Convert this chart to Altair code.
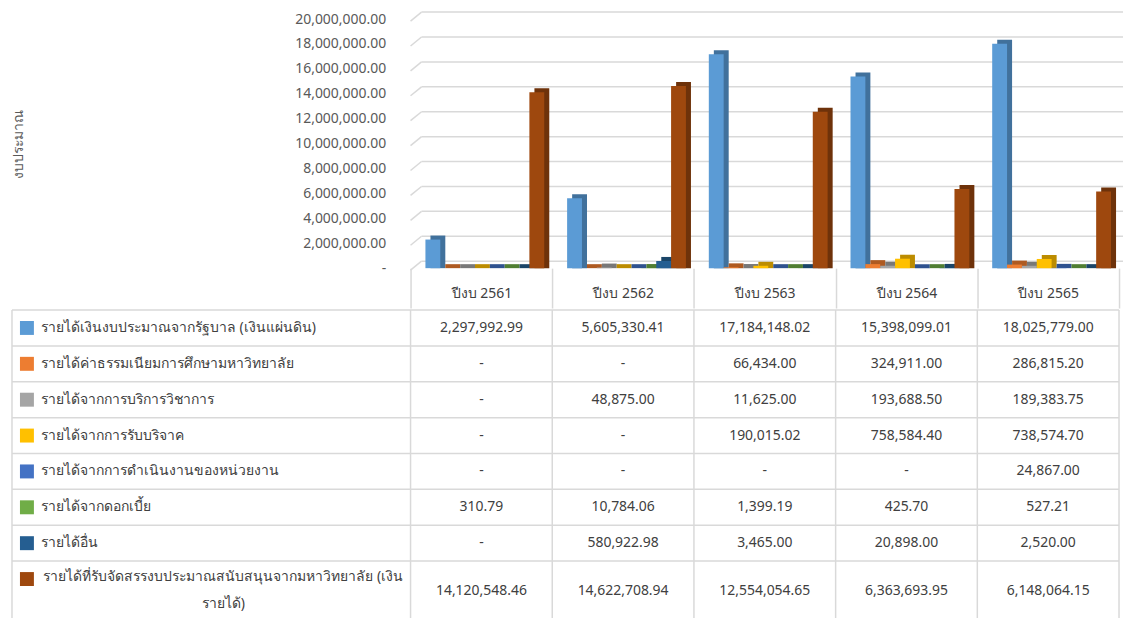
import altair as alt
import pandas as pd

years = ["ปีงบ 2561", "ปีงบ 2562", "ปีงบ 2563", "ปีงบ 2564", "ปีงบ 2565"]
series = [
    "รายได้เงินงบประมาณจากรัฐบาล (เงินแผ่นดิน)",
    "รายได้ค่าธรรมเนียมการศึกษามหาวิทยาลัย",
    "รายได้จากการบริการวิชาการ",
    "รายได้จากการรับบริจาค",
    "รายได้จากการดำเนินงานของหน่วยงาน",
    "รายได้จากดอกเบี้ย",
    "รายได้อื่น",
    "รายได้ที่รับจัดสรรงบประมาณสนับสนุนจากมหาวิทยาลัย (เงินรายได้)",
]
gov = [2297992.99, 5605330.41, 17184148.02, 15398099.01, 18025779.00]
tuition = [0, 0, 66434.00, 324911.00, 286815.20]
academic = [0, 48875.00, 11625.00, 193688.50, 189383.75]
donation = [0, 0, 190015.02, 758584.40, 738574.70]
operation = [0, 0, 0, 0, 24867.00]
interest = [310.79, 10784.06, 1399.19, 425.70, 527.21]
other = [0, 580922.98, 3465.00, 20898.00, 2520.00]
university = [14120548.46, 14622708.94, 12554054.65, 6363693.95, 6148064.15]
y_ticks = [0, 2000000, 4000000, 6000000, 8000000, 10000000,
           12000000, 14000000, 16000000, 18000000, 20000000]

colors = ["#5B9BD5", "#ED7D31", "#A5A5A5", "#FFC000",
          "#4472C4", "#70AD47", "#255E91", "#9E480E"]
side_colors = ["#41719C", "#AE5A21", "#787878", "#BC8C00",
               "#2F528F", "#507E32", "#1A4568", "#6E320A"]

FONT = "Tahoma, 'Noto Sans', sans-serif"
GRID = "#D9D9D9"
TXT = "#404040"
W = 711
H_TOP = 250
ROW_PX = 36
H_TBL = 309

all_vals = [gov, tuition, academic, donation, operation, interest, other, university]
rows = []
for si, (s, vals) in enumerate(zip(series, all_vals)):
    for yi, (yr, v) in enumerate(zip(years, vals)):
        rows.append({"year": yr, "series": s, "value": v, "sidx": si})
bar_df = pd.DataFrame(rows)
tick_df = pd.DataFrame({"v": y_ticks})

x_scale = alt.Scale(domain=years, paddingInner=0, paddingOuter=0)
y_scale = alt.Scale(domain=[0, 20000000], nice=False, zero=True)

x_axis = alt.Axis(
    title=None, labelAngle=0, domain=False, grid=False,
    ticks=True, tickBand="extent", tickSize=40, tickColor=GRID, tickWidth=1.5,
    labelPadding=-22, labelFontSize=14, labelColor=TXT, labelFont=FONT,
)
y_axis = alt.Axis(
    values=y_ticks,
    labelExpr="datum.value == 0 ? '-' : format(datum.value, ',.2f')",
    domain=False, ticks=False, grid=False, labelPadding=25,
    labelFontSize=14, labelColor="#595959", labelFont=FONT,
    title="งบประมาณ", titleFontSize=14, titleFontWeight="normal",
    titleColor="#595959", titleFont=FONT, titleX=-393, titleY=125,
    titleBaseline="middle",
)

grid = alt.Chart(tick_df).mark_rule(color=GRID, strokeWidth=1.5, yOffset=-7).encode(
    y=alt.Y("v:Q", scale=y_scale, axis=y_axis),
    x=alt.value(11), x2=alt.value(W + 4),
)
slant = alt.Chart(tick_df).mark_rule(color=GRID, strokeWidth=1.5, yOffset=2, y2Offset=-7).encode(
    y=alt.Y("v:Q", scale=y_scale, axis=y_axis), y2="v:Q",
    x=alt.value(0), x2=alt.value(11),
)
back = alt.Chart(bar_df).mark_bar(yOffset=-4).encode(
    x=alt.X("year:N", scale=x_scale, axis=x_axis, sort=years),
    xOffset=alt.XOffset("series:N", sort=series,
                        scale=alt.Scale(domain=series, paddingInner=0, paddingOuter=0.77, align=0.87)),
    y=alt.Y("value:Q", scale=y_scale, axis=y_axis),
    y2=alt.datum(0),
    color=alt.Color("series:N", scale=alt.Scale(domain=series, range=side_colors), legend=None),
)
front = alt.Chart(bar_df).mark_bar().encode(
    x=alt.X("year:N", scale=x_scale, axis=x_axis, sort=years),
    xOffset=alt.XOffset("series:N", sort=series,
                        scale=alt.Scale(domain=series, paddingInner=0, paddingOuter=0.77, align=0.65)),
    y=alt.Y("value:Q", scale=y_scale, axis=y_axis),
    color=alt.Color("series:N", scale=alt.Scale(domain=series, range=colors), legend=None),
)
top = alt.layer(grid, slant, back, front).resolve_scale(
    color="independent", xOffset="independent"
).properties(width=W, height=H_TOP)

# ---- table ----
n = len(series)
row_tops, row_mids, sq_pos, labels = [], [], [], []
for i, s in enumerate(series):
    row_tops.append(i)
    if i < n - 1:
        row_mids.append(i + 0.5)
    else:
        row_mids.append(i + 0.82)
    sq_pos.append(i + 0.5)
    labels.append(s.replace("(เงินรายได้)", "(เงิน\nรายได้)"))
lab_df = pd.DataFrame({"series": series, "label": labels, "top": row_tops,
                       "mid": row_mids, "sq": sq_pos, "sidx": list(range(n))})
val_df = bar_df.merge(lab_df[["series", "mid"]], on="series")

ty = alt.Scale(domain=[0, H_TBL / ROW_PX], nice=False, zero=False, reverse=True)
tx = alt.Scale(domain=years, paddingInner=0, paddingOuter=0)

hlines = alt.Chart(lab_df).mark_rule(color=GRID, strokeWidth=1.5).encode(
    y=alt.Y("top:Q", scale=ty, axis=None), x=alt.value(-400), x2=alt.value(W),
)
year_df = pd.DataFrame({"year": years})
vlines = alt.Chart(year_df).mark_rule(color=GRID, strokeWidth=1.5).encode(
    x=alt.X("year:N", scale=tx, axis=None, bandPosition=0),
    y=alt.value(0), y2=alt.value(H_TBL),
)
vlast = alt.Chart(year_df).transform_filter(
    alt.datum.year == years[-1]
).mark_rule(color=GRID, strokeWidth=1.5).encode(
    x=alt.X("year:N", scale=tx, axis=None, bandPosition=1),
    y=alt.value(0), y2=alt.value(H_TBL),
)
vleft = alt.Chart(lab_df).transform_filter(alt.datum.sidx == 0).mark_rule(
    color=GRID, strokeWidth=1.5).encode(
    x=alt.value(-400), y=alt.value(0), y2=alt.value(H_TBL),
)
values = alt.Chart(val_df).transform_calculate(
    txt="datum.value == 0 ? '-' : format(datum.value, ',.2f')"
).mark_text(fontSize=14, color=TXT, font=FONT).encode(
    x=alt.X("year:N", scale=tx, axis=None),
    y=alt.Y("mid:Q", scale=ty, axis=None),
    text="txt:N",
)
squares = alt.Chart(lab_df).mark_square(size=196, opacity=1, filled=True).encode(
    x=alt.value(-385),
    y=alt.Y("sq:Q", scale=ty, axis=None),
    color=alt.Color("series:N", scale=alt.Scale(domain=series, range=colors), legend=None),
)
labels_l = alt.Chart(lab_df).transform_filter(alt.datum.sidx < n - 1).mark_text(
    align="left", fontSize=14, color=TXT, font=FONT).encode(
    x=alt.value(-371), y=alt.Y("mid:Q", scale=ty, axis=None), text="label:N",
)
labels_c = alt.Chart(lab_df).transform_filter(alt.datum.sidx == n - 1).mark_text(
    align="center", fontSize=14, color=TXT, font=FONT, lineBreak="\n", lineHeight=28,
    dy=-14).encode(
    x=alt.value(-188), y=alt.Y("mid:Q", scale=ty, axis=None), text="label:N",
)
table = alt.layer(hlines, vlines, vlast, vleft, values, squares, labels_l, labels_c).properties(
    width=W, height=H_TBL)

chart = alt.vconcat(top, table, spacing=0).properties(
    padding={"left": 3, "top": 2, "right": 0, "bottom": 0}
).configure(font=FONT).configure_view(stroke=None)

chart.save("out.html", embed_options={"renderer": "svg", "actions": False})
